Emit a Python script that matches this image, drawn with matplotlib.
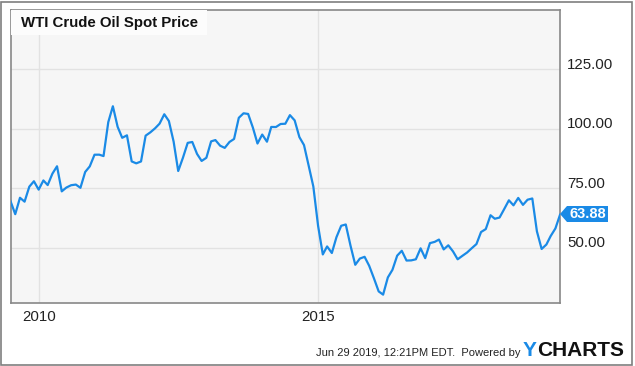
import numpy as np
import pandas as pd
import matplotlib
matplotlib.use("Agg")
import matplotlib.pyplot as plt
from matplotlib.patches import Rectangle, Polygon
from matplotlib.transforms import ScaledTranslation

plt.rcParams['font.family'] = ['Liberation Sans', 'DejaVu Sans']

# monthly WTI spot price, Jun 2009 .. Apr 2019 (month end)
months = pd.date_range("2009-06-30", "2019-04-30", freq="ME")
prices = [
    69.64, 64.15, 71.05, 69.41, 75.72, 77.99, 74.47,
    78.33, 76.39, 81.20, 84.29, 73.74, 75.34, 76.32, 76.60, 75.24, 81.89, 84.25, 89.15,
    89.17, 88.58, 102.86, 109.53, 100.90, 96.26, 97.30, 86.33, 85.52, 86.32, 97.16, 98.56,
    100.27, 102.20, 106.16, 103.32, 94.66, 82.30, 87.90, 94.13, 94.51, 89.49, 86.53, 87.86,
    94.76, 95.31, 92.94, 92.02, 94.51, 95.77, 104.67, 106.57, 106.29, 100.54, 93.86, 97.63,
    94.62, 100.82, 100.80, 102.07, 102.18, 105.79, 103.59, 96.54, 93.21, 84.40, 75.79, 59.29,
    47.22, 50.58, 47.82, 54.45, 59.27, 59.82, 50.90, 42.87, 45.48, 46.22, 42.44, 37.19,
    31.68, 30.32, 37.55, 40.75, 46.71, 48.76, 44.65, 44.72, 45.18, 49.78, 45.66, 51.97,
    52.50, 53.47, 49.33, 51.06, 48.48, 45.18, 46.63, 48.04, 49.82, 51.58, 56.64, 57.88,
    63.70, 62.23, 62.73, 66.25, 69.98, 67.87, 70.98, 68.06, 70.23, 70.75, 56.96, 49.52,
    51.38, 54.95, 58.15, 63.88,
]
y_ticks = [50, 75, 100, 125]
x_ticks = ["2010-01-01", "2015-01-01"]
x_labels = ["2010", "2015"]
title = "WTI Crude Oil Spot Price"

blue = "#1a8ae6"
W, H = 635, 366
fig = plt.figure(figsize=(W / 100, H / 100), dpi=100)
fig.patch.set_facecolor("white")

# outer frame
fig.add_artist(Rectangle((0.5 / W, 1.5 / H), (W - 3.5) / W, (H - 3) / H,
                         transform=fig.transFigure, fill=False,
                         edgecolor="#7f7f7f", linewidth=1.2))

left, right, top, bottom = 10.5, 560, 10, 303
ax = fig.add_axes([left / W, 1 - bottom / H, (right - left) / W, (bottom - top) / H])
ax.set_facecolor("#f6f6f6")
ax.plot(months, prices, color=blue, linewidth=1.6, zorder=3)
ax.set_xlim(months[0], months[-1])
ax.set_ylim(26.8, 150)

ax.set_yticks(y_ticks)
ax.set_yticklabels([f"{v:.2f}" for v in y_ticks])
ax.set_xticks(pd.to_datetime(x_ticks))
ax.set_xticklabels(x_labels)
ax.yaxis.tick_right()
ax.tick_params(axis="both", length=0, labelsize=10.8, labelcolor="#222222")
ax.tick_params(axis="y", pad=5)
ax.tick_params(axis="x", pad=5)
# y labels sit a little above their grid line
up = ScaledTranslation(0, 0.06, fig.dpi_scale_trans)
for lab in ax.get_yticklabels():
    lab.set_transform(lab.get_transform() + up)
ax.grid(True, color="#e2e2e2", linewidth=1)
ax.set_axisbelow(True)
for s in ax.spines.values():
    s.set_color("#888888")
    s.set_linewidth(1.2)

# title box
fig.add_artist(Rectangle((left / W, 1 - 35 / H), 196 / W, 25 / H,
                         transform=fig.transFigure, facecolor="#fcfcfc",
                         edgecolor="none", zorder=5))
fig.text(21 / W, 1 - 23 / H, title, fontsize=10.8, fontweight="bold",
         va="center", ha="left", color="#111111", zorder=6)

# last value tag
yc = 1 - 214 / H
hh = 8 / H
tag = Polygon([(560 / W, yc), (567 / W, yc + hh), (608 / W, yc + hh),
               (608 / W, yc - hh), (567 / W, yc - hh)],
              closed=True, transform=fig.transFigure, facecolor=blue,
              edgecolor="none", zorder=5)
fig.add_artist(tag)
fig.text(587.5 / W, yc, f"{prices[-1]:.2f}", color="white", fontsize=10.5,
         fontweight="bold", ha="center", va="center", zorder=6)

# footer
fig.text(520 / W, 1 - 353 / H, "Jun 29 2019, 12:21PM EDT.  Powered by",
         fontsize=8, ha="right", va="center", color="#222222")
fig.text(523 / W, 1 - 351 / H, "Y", fontsize=15, fontweight="bold",
         ha="left", va="center", color=blue)
fig.text(537 / W, 1 - 351 / H, "CHARTS", fontsize=15, fontweight="bold",
         ha="left", va="center", color="#111111")

fig.savefig("out.png", dpi=100)
